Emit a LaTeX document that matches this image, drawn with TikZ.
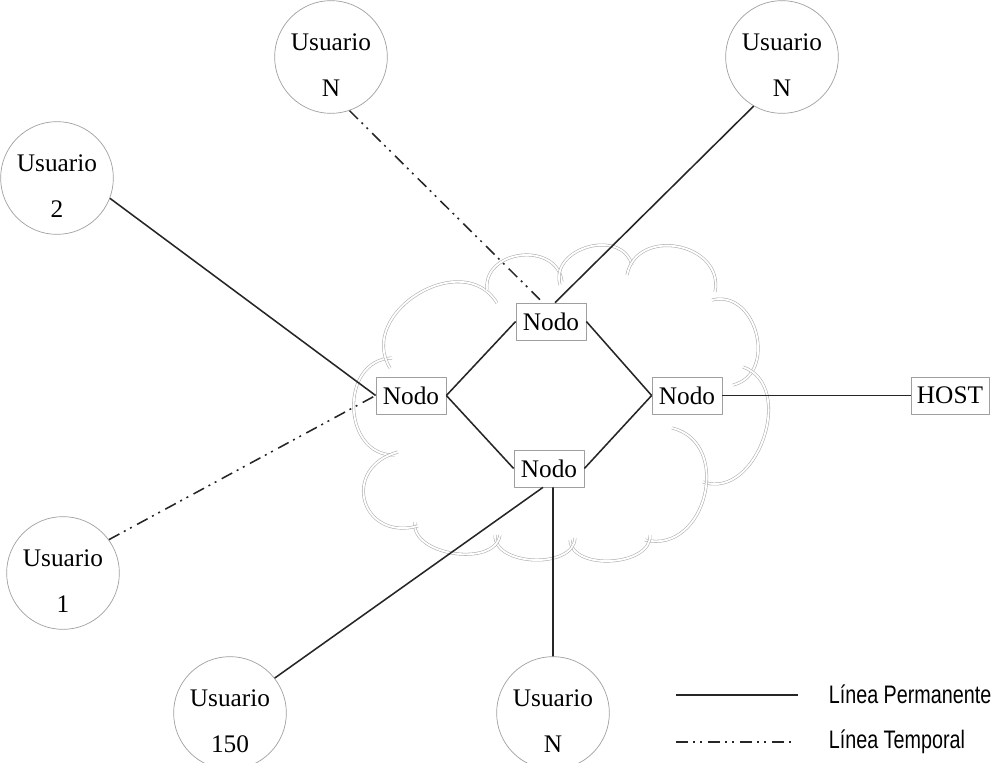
\documentclass[tikz,border=0pt]{standalone}
\usepackage{fontspec}
\setmainfont{Liberation Serif}
\newfontfamily\leyendafont{Liberation Sans}
\newcommand{\usuario}[1]{\rule{0pt}{24pt}Usuario\\[11pt]#1}
\begin{document}
\begin{tikzpicture}[x=0.025cm, y=0.025cm, font=\fontsize{18}{21.6}\selectfont, line join=round,
    usuario/.style={circle, draw=gray!75, line width=0.5pt, minimum size=2.6cm, inner sep=0pt, align=center},
    nodo/.style={rectangle, draw=gray!75, line width=0.5pt, minimum width=1.75cm, minimum height=0.925cm, inner sep=0pt, fill=white},
    nube/.style={draw=gray!65, line width=0.4pt, double=white, double distance=1.3pt},
    permanente/.style={line width=1.1pt, draw=black!85},
    temporal/.style={line width=1.1pt, draw=black!85, dash pattern=on 8.5pt off 3.6pt on 1.4pt off 3.6pt on 1.4pt off 4.3pt},
    leyenda/.style={anchor=base west, font=\leyendafont\fontsize{18}{21.6}\selectfont, xscale=0.78}]
    \useasboundingbox (0,0) rectangle (1001,-763);

    % Nube (cada arco por separado)
    \draw[nube] (395,-455) to[bend left=90, looseness=1.4] (392,-358);
    \draw[nube] (390,-368) to[bend left=90, looseness=1.33] (497,-303);
    \draw[nube] (487,-290) to[bend left=90, looseness=1.4] (562,-282);
    \draw[nube] (560,-285) to[bend left=90, looseness=1.33] (632,-265);
    \draw[nube] (627,-275) to[bend left=90, looseness=1.43] (715,-292);
    \draw[nube] (712,-300) to[bend left=90, looseness=1.36] (733,-385);
    \draw[nube] (743,-367) to[bend left=90, looseness=1.2] (703,-482);
    \draw[nube] (672,-428) to[bend left=90, looseness=1.4] (645,-540);
    \draw[nube] (650,-535) to[bend left=90, looseness=1.0] (570,-540);
    \draw[nube] (575,-538) to[bend left=90, looseness=1.0] (495,-535);
    \draw[nube] (500,-535) to[bend left=90, looseness=1.0] (415,-522);
    \draw[nube] (418,-526) to[bend left=90, looseness=2.0] (398,-452);

    % Nodos de la red
    \node[nodo] (nT) at (551,-321.5) {Nodo};
    \node[nodo] (nL) at (411,-395.5) {Nodo};
    \node[nodo] (nR) at (687,-395.5) {Nodo};
    \node[nodo] (nB) at (549,-468.5) {Nodo};
    \node[nodo, minimum width=1.95cm] (host) at (950,-395.5) {HOST};

    % Usuarios
    \node[usuario] (uN1) at (331,-57) {\usuario{N}};
    \node[usuario] (uN2) at (782,-57) {\usuario{N}};
    \node[usuario] (u2) at (57,-178) {\usuario{2}};
    \node[usuario] (u1) at (63,-573) {\usuario{1}};
    \node[usuario] (u150) at (230,-713) {\usuario{150}};
    \node[usuario] (uN3) at (553,-713) {\usuario{N}};

    % Enlaces entre nodos
    \draw[permanente] (nL.east) -- (nT.west);
    \draw[permanente] (nL.east) -- (nB.west);
    \draw[permanente] (nT.east) -- (nR.west);
    \draw[permanente] (nB.east) -- (nR.west);
    \draw[permanente] (nR) -- (host);

    % Enlaces de usuarios
    \draw[permanente] (u2.-21) -- (nL.west);
    \draw[temporal] (u1.36) -- (nL.west);
    \draw[temporal] (uN1.-71) -- ([xshift=-0.2cm]nT.north);
    \draw[permanente] (uN2.240) -- ([xshift=0.1cm]nT.north);
    \draw[permanente] (u150.38) -- ([xshift=-0.15cm]nB.south);
    \draw[permanente] ([xshift=0.1cm]nB.south) -- (uN3);

    % Leyenda
    \coordinate (lp1) at (676,-695);
    \coordinate (lp2) at (798,-695);
    \coordinate (lt1) at (676,-742);
    \coordinate (lt2) at (795,-742);
    \draw[permanente] (lp1) -- (lp2);
    \draw[temporal] (lt1) -- (lt2);
    \node[leyenda] (tp) at (825,-703) {Línea Permanente};
    \node[leyenda] (tt) at (825,-748) {Línea Temporal};
\end{tikzpicture}
\end{document}
